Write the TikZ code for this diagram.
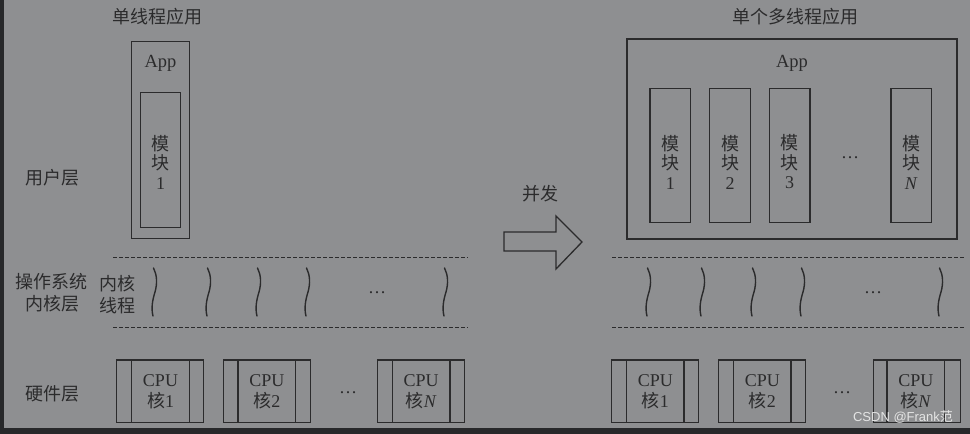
\documentclass[tikz,border=0pt]{standalone}
\usepackage{fontspec}
\setmainfont{Liberation Serif}
\newfontfamily\cjk{Noto Sans CJK SC}
\newfontfamily\wmfont{Liberation Sans}
\definecolor{bgc}{HTML}{8E8F91}
\definecolor{edgec}{HTML}{27282A}
\definecolor{ink}{HTML}{2B2B2C}
\definecolor{wmc}{HTML}{E4E4E4}
\tikzset{
  txt/.style={font=\fontsize{18}{19.5}\selectfont, text=ink, inner sep=0pt, align=center},
  boxc/.style={draw=ink, line width=1.4pt, inner sep=0pt},
  cpuouter/.style={boxc, minimum width=87pt, minimum height=62.7pt},
  cpuinner/.style={boxc, minimum width=57.5pt, minimum height=62.7pt, text=ink, align=center, font=\fontsize{18}{21}\selectfont},
  modbox/.style={boxc, minimum width=40.5pt, minimum height=134pt},
  sepline/.style={draw=ink, line width=1.4pt, dash pattern=on 3.8pt off 2.2pt},
  wavec/.style={draw=ink, line width=1.4pt, line cap=round},
  wave/.pic={\path[wavec] (-0.5,0) .. controls (3,7) and (3.5,15) .. (1,24) .. controls (-1.5,32) and (-3,40) .. (-1,48);}
}
\begin{document}
\begin{tikzpicture}[x=1pt, y=-1pt]
\fill[bgc] (0,0) rectangle (970,434);
\fill[edgec] (0,0) rectangle (4,434);
\fill[edgec] (0,428) rectangle (970,434);
\useasboundingbox (0,0) rectangle (970,434);

% titles
\node[txt] (t1) at (157,17) {\cjk 单线程应用};
\node[txt] (t2) at (795,17) {\cjk 单个多线程应用};

% left labels
\node[txt] (l1) at (52,178) {\cjk 用户层};
\node[txt] (l2) at (52,281.5) {\cjk 操作系统};
\node[txt] (l3) at (52,303.5) {\cjk 内核层};
\node[txt] (l4) at (117,284) {\cjk 内核};
\node[txt] (l5) at (117,306) {\cjk 线程};
\node[txt] (l6) at (52,394) {\cjk 硬件层};

% left app
\node[boxc, minimum width=57.6pt, minimum height=197pt] (appL) at (160.5,140.2) {};
\node[txt, font=\fontsize{18.5}{20}\selectfont] (appLt) at (160.5,63) {App};
\node[modbox, minimum height=135pt] (mL) at (160.5,160.2) {};
\node[txt] (mLt) at (160.5,162) {{\cjk 模}\\{\cjk 块}\\1};

% right app
\node[boxc, minimum width=330pt, minimum height=199.7pt] (appR) at (792,139) {};
\node[txt, font=\fontsize{18.5}{20}\selectfont] (appRt) at (792,63) {App};
\node[modbox] (m1) at (670.3,155.7) {};
\node[modbox] (m2) at (730,155.7) {};
\node[modbox] (m3) at (789.7,155.7) {};
\node[modbox] (m4) at (911.3,155.7) {};
\node[txt] (m1t) at (670.3,162) {{\cjk 模}\\{\cjk 块}\\1};
\node[txt] (m2t) at (730,162) {{\cjk 模}\\{\cjk 块}\\2};
\node[txt] (m3t) at (789.7,162) {{\cjk 模}\\{\cjk 块}\\3};
\node[txt] (m4t) at (911.3,162) {{\cjk 模}\\{\cjk 块}\\\textit{N}};
\node[txt] (mdots) at (850,158) {\ldots};

% concurrency arrow
\node[txt] (bf) at (540,194) {\cjk 并发};
\draw[draw=ink, line width=1.3pt, line join=miter] (504,232) -- (556,232) -- (556,216) -- (582,242) -- (556,269) -- (556,251) -- (504,251) -- cycle;

% dashed separators
\draw[sepline] (113,257.3) -- (468,257.3);
\draw[sepline] (113,327.3) -- (468,327.3);
\draw[sepline] (612,257.3) -- (965,257.3);
\draw[sepline] (612,327.3) -- (965,327.3);

% kernel threads
\foreach \xx in {154,208,258,307,445,648,702,753,802,940} {
  \pic at (\xx,268) {wave};
}
\node[txt] (kd1) at (377,293) {\ldots};
\node[txt] (kd2) at (873,293) {\ldots};

% CPU cores left
\node[cpuouter] (c1o) at (160,391.3) {};
\node[cpuinner] (c1) at (160.5,391.3) {CPU\\{\cjk 核}1};
\node[cpuouter] (c2o) at (266.7,391.3) {};
\node[cpuinner] (c2) at (266.8,391.3) {CPU\\{\cjk 核}2};
\node[cpuouter] (c3o) at (421,391.3) {};
\node[cpuinner] (c3) at (421.2,391.3) {CPU\\{\cjk 核}\textit{N}};
\node[txt] (cd1) at (348,393) {\ldots};

% CPU cores right
\node[cpuouter] (r1o) at (655,391.3) {};
\node[cpuinner] (r1) at (655.3,391.3) {CPU\\{\cjk 核}1};
\node[cpuouter] (r2o) at (762,391.3) {};
\node[cpuinner] (r2) at (762.3,391.3) {CPU\\{\cjk 核}2};
\node[cpuouter] (r3o) at (916.7,391.3) {};
\node[cpuinner] (r3) at (915.8,391.3) {CPU\\{\cjk 核}\textit{N}};
\node[txt] (cd2) at (842,393) {\ldots};

% watermark
\node[inner sep=0pt, text=wmc, font=\wmfont\fontsize{13}{14}\selectfont] (wm) at (903,417) {CSDN @Frank{\cjk 范}};
\end{tikzpicture}
\end{document}
